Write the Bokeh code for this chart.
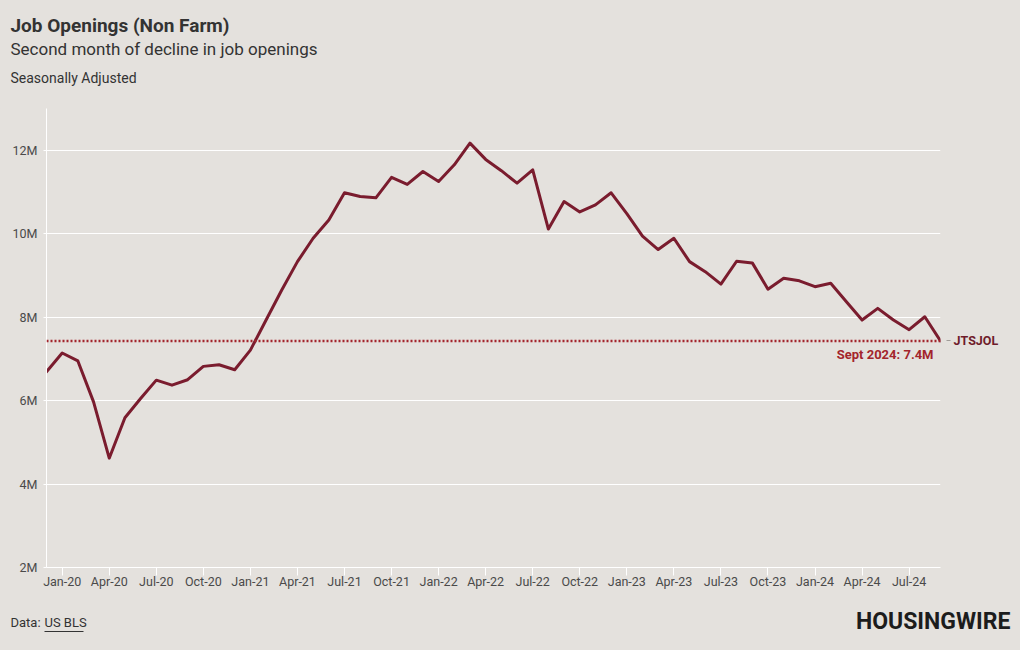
from bokeh.plotting import figure
from bokeh.models import Range1d, Label, Span, FixedTicker, LinearAxis
from bokeh.layouts import column
from bokeh.embed import file_html
from bokeh.resources import INLINE

# Monthly job openings (millions), Dec 2019 .. Sep 2024
months = ["Dec-19",
          "Jan-20", "Feb-20", "Mar-20", "Apr-20", "May-20", "Jun-20", "Jul-20", "Aug-20", "Sep-20", "Oct-20", "Nov-20", "Dec-20",
          "Jan-21", "Feb-21", "Mar-21", "Apr-21", "May-21", "Jun-21", "Jul-21", "Aug-21", "Sep-21", "Oct-21", "Nov-21", "Dec-21",
          "Jan-22", "Feb-22", "Mar-22", "Apr-22", "May-22", "Jun-22", "Jul-22", "Aug-22", "Sep-22", "Oct-22", "Nov-22", "Dec-22",
          "Jan-23", "Feb-23", "Mar-23", "Apr-23", "May-23", "Jun-23", "Jul-23", "Aug-23", "Sep-23", "Oct-23", "Nov-23", "Dec-23",
          "Jan-24", "Feb-24", "Mar-24", "Apr-24", "May-24", "Jun-24", "Jul-24", "Aug-24", "Sep-24"]
openings = [6.69,
            7.14, 6.95, 5.97, 4.62, 5.59, 6.05, 6.49, 6.37, 6.50, 6.82, 6.86, 6.74,
            7.21, 7.93, 8.65, 9.33, 9.89, 10.33, 10.98, 10.89, 10.86, 11.35, 11.18, 11.49,
            11.25, 11.65, 12.17, 11.78, 11.51, 11.21, 11.53, 10.11, 10.77, 10.52, 10.69, 10.98,
            10.48, 9.94, 9.62, 9.89, 9.33, 9.09, 8.79, 9.34, 9.30, 8.67, 8.93, 8.87,
            8.73, 8.81, 8.37, 7.93, 8.21, 7.93, 7.70, 8.01, 7.43]
tick_labels = ["Jan-20", "Apr-20", "Jul-20", "Oct-20", "Jan-21", "Apr-21", "Jul-21", "Oct-21",
               "Jan-22", "Apr-22", "Jul-22", "Oct-22", "Jan-23", "Apr-23", "Jul-23", "Oct-23",
               "Jan-24", "Apr-24", "Jul-24"]
y_ticks = [2, 4, 6, 8, 10, 12]
y_tick_labels = ["2M", "4M", "6M", "8M", "10M", "12M"]
latest_label = "Sept 2024: 7.4M"
series_name = "JTSJOL"
title = "Job Openings (Non Farm)"
subtitle = "Second month of decline in job openings"
note = "Seasonally Adjusted"
source_prefix = "Data: "
source_link = "US BLS"
brand = "HOUSINGWIRE"

BG = "#e4e1dd"
FONT = "Roboto"
TXT = "#333333"
W = 1020
HEAD_H, MAIN_H, FOOT_H = 108, 492, 50


def blank(h, top):
    f = figure(width=W, height=h, output_backend="svg", toolbar_location=None,
               x_range=Range1d(0, W), y_range=Range1d(top + h, top),
               x_axis_location=None, y_axis_location=None, min_border=0)
    f.frame_align = False
    f.background_fill_color = BG
    f.border_fill_color = BG
    f.outline_line_color = None
    f.grid.visible = False
    return f


def lab(f, text, x, y, size, bold=False, color=TXT, align="left", baseline="alphabetic"):
    f.add_layout(Label(x=x, y=y, text=text, text_font=FONT, text_font_size=size,
                       text_font_style="bold" if bold else "normal",
                       text_color=color, text_align=align, text_baseline=baseline))


# ---- header ----
head = blank(HEAD_H, 0)
lab(head, title, 10, 25, "19px", bold=True)
lab(head, subtitle, 10, 48, "17px")
lab(head, note, 10, 77, "14px")

# ---- main chart ----
xs = list(range(len(openings)))
p = figure(width=W, height=MAIN_H, output_backend="svg", toolbar_location=None,
           x_range=Range1d(0, len(openings) - 1), y_range=Range1d(2, 13),
           min_border_left=46, min_border_right=80, min_border_top=0, min_border_bottom=33)
p.frame_align = False
p.background_fill_color = BG
p.border_fill_color = BG
p.outline_line_color = None
p.xgrid.grid_line_color = None
p.ygrid.grid_line_color = "white"
p.ygrid.grid_line_width = 1
p.yaxis.ticker = FixedTicker(ticks=y_ticks)
p.yaxis.major_label_overrides = {t: l for t, l in zip(y_ticks, y_tick_labels)}
tick_pos = [months.index(t) for t in tick_labels]
p.xaxis.ticker = FixedTicker(ticks=tick_pos)
p.xaxis.major_label_overrides = {i: t for i, t in zip(tick_pos, tick_labels)}
for ax in (p.xaxis[0], p.yaxis[0]):
    ax.axis_line_color = "white"
    ax.major_tick_line_color = "white"
    ax.minor_tick_line_color = None
    ax.major_tick_in = 0
    ax.major_label_text_font = FONT
    ax.major_label_text_font_size = "12.5px"
    ax.major_label_text_color = "#4a4a4a"
p.xaxis.major_tick_out = 8
p.xaxis.major_label_standoff = -2
p.yaxis.major_tick_out = 3
p.yaxis.major_label_standoff = 6

latest = openings[-1]
p.add_layout(Span(location=latest, dimension="width", line_color="#a3252c",
                  line_width=2.5, line_dash="2 2"))
p.line(xs, openings, line_color="#7a1c2e", line_width=3, line_join="round", line_cap="round")

right = LinearAxis(ticker=FixedTicker(ticks=[latest]),
                   major_label_overrides={latest: series_name})
right.axis_line_color = None
right.major_tick_line_color = "#a09c98"
right.major_tick_in = -6
right.major_tick_out = 10
right.minor_tick_line_color = None
right.major_label_standoff = 3
right.major_label_text_font = FONT
right.major_label_text_font_style = "bold"
right.major_label_text_font_size = "12.5px"
right.major_label_text_color = "#6e1b2a"
p.add_layout(right, "right")

p.add_layout(Label(x=len(openings) - 1, y=latest, x_offset=-7, y_offset=-14, text=latest_label,
                   text_font=FONT, text_font_size="13px", text_font_style="bold",
                   text_color="#a3252c", text_align="right", text_baseline="alphabetic"))

# ---- footer ----
foot = blank(FOOT_H, HEAD_H + MAIN_H)
lab(foot, source_prefix, 10, 622, "13px")
lab(foot, source_link, 44, 622, "13px")
foot.segment(x0=[44], y0=[631], x1=[83], y1=[631], line_color=TXT, line_width=1)
lab(foot, brand, 1010, 621, "23px", bold=True, color="#1c1c1c", align="right")

layout = column(head, p, foot, spacing=0)
html = file_html(layout, INLINE)
html = html.replace("<head>", "<head><style>body{background:%s;}</style>" % BG, 1)
open("out.html", "w").write(html)
